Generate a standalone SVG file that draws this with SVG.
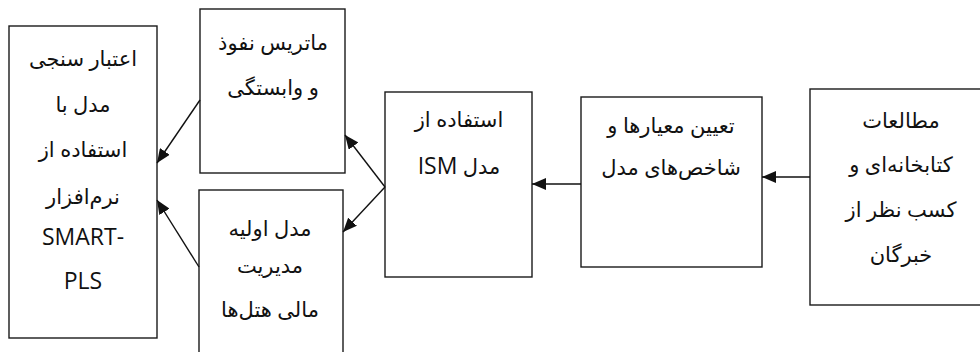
<svg xmlns="http://www.w3.org/2000/svg" width="980" height="352" viewBox="0 0 980 352">
<style>
  .box { fill: #ffffff; stroke: #1a1a1a; stroke-width: 1.4; }
  .t { font-family: "Open Sans", "DejaVu Sans", sans-serif; font-size: 21px; fill: #111111; text-anchor: middle; }
  .lat { font-size: 23px; }
  .rtl { direction: rtl; unicode-bidi: embed; }
  .con { stroke: #111111; stroke-width: 1.4; fill: none; marker-end: url(#ah); }
</style>
<defs>
  <marker id="ah" viewBox="0 0 14 12" refX="14" refY="6" markerWidth="14" markerHeight="12" markerUnits="userSpaceOnUse" orient="auto">
    <path d="M0,0 L14,6 L0,12 Z" fill="#111111"/>
  </marker>
</defs>
<rect width="980" height="352" fill="#ffffff"/>

<g id="node-validation">
  <rect class="box" x="9" y="26" width="148" height="312"/>
  <text class="t rtl" x="83" y="66">اعتبار سنجی</text>
  <text class="t rtl" x="83" y="112">مدل با</text>
  <text class="t rtl" x="83" y="157">استفاده از</text>
  <text class="t rtl" x="83" y="204">نرم‌افزار</text>
  <text class="t lat" x="83" y="245">SMART-</text>
  <text class="t lat" x="83" y="289">PLS</text>
</g>

<g id="node-matrix">
  <rect class="box" x="200" y="9" width="145" height="164"/>
  <text class="t rtl" x="273" y="50">ماتریس نفوذ</text>
  <text class="t rtl" x="273" y="95">و وابستگی</text>
</g>

<g id="node-initial-model">
  <rect class="box" x="199" y="190" width="144" height="175"/>
  <text class="t rtl" x="270" y="236">مدل اولیه</text>
  <text class="t rtl" x="270" y="273">مدیریت</text>
  <text class="t rtl" x="270" y="317">مالی هتل‌ها</text>
</g>

<g id="node-ism">
  <rect class="box" x="385" y="92" width="147" height="185"/>
  <text class="t rtl" x="459" y="127">استفاده از</text>
  <text class="t rtl" x="459" y="174">مدل <tspan class="lat">ISM</tspan></text>
</g>

<g id="node-criteria">
  <rect class="box" x="581" y="97" width="181" height="170"/>
  <text class="t rtl" x="671" y="133">تعیین معیارها و</text>
  <text class="t rtl" x="671" y="175">شاخص‌های مدل</text>
</g>

<g id="node-studies">
  <rect class="box" x="810" y="89" width="180" height="216"/>
  <text class="t rtl" x="901" y="128">مطالعات</text>
  <text class="t rtl" x="901" y="172">کتابخانه‌ای و</text>
  <text class="t rtl" x="901" y="217">کسب نظر از</text>
  <text class="t rtl" x="901" y="262">خبرگان</text>
</g>

<g id="connectors">
  <line class="con" x1="810" y1="177" x2="762" y2="177"/>
  <line class="con" x1="581" y1="184" x2="532" y2="184"/>
  <line class="con" x1="385" y1="187" x2="345" y2="135"/>
  <line class="con" x1="385" y1="187" x2="343" y2="232"/>
  <line class="con" x1="200" y1="100" x2="157" y2="163"/>
  <line class="con" x1="199" y1="267" x2="157" y2="200"/>
</g>
</svg>
